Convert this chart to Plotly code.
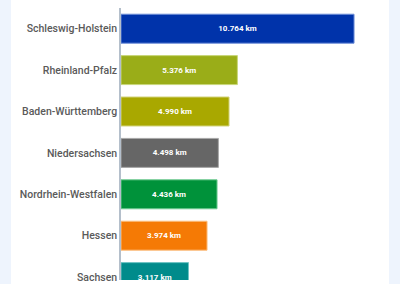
import plotly.graph_objects as go

states = ["Schleswig-Holstein", "Rheinland-Pfalz", "Baden-Württemberg", "Niedersachsen",
          "Nordrhein-Westfalen", "Hessen", "Sachsen"]
km = [10764, 5376, 4990, 4498, 4436, 3974, 3117]
labels = ["10.764 km", "5.376 km", "4.990 km", "4.498 km", "4.436 km", "3.974 km", "3.117 km"]
colors = ["#0033AA", "#9AAD18", "#A9A800", "#666666", "#00923A", "#F57A05", "#008B8B"]
borders = ["#6F8FD8", "#C8D67A", "#D2D27A", "#A8A8A8", "#6FCB92", "#FBBE80", "#6FC4C4"]

fig = go.Figure(go.Bar(
    x=km, y=states, orientation="h",
    marker=dict(color=colors, line=dict(color=borders, width=1)),
    text=labels, textposition="inside", insidetextanchor="middle",
    textfont=dict(family="Roboto", size=8, color="white", weight="bold"),
    hoverinfo="skip",
))

fig.update_layout(
    width=400, height=284,
    margin=dict(l=121, r=20, t=8, b=0),
    paper_bgcolor="#EEF4FD", plot_bgcolor="white",
    bargap=0.3, showlegend=False,
    shapes=[dict(type="rect", xref="paper", yref="paper",
                 x0=(11 - 121) / 259, x1=(389 - 121) / 259, y0=-0.2, y1=1.2,
                 fillcolor="white", line_width=0, layer="below")],
    xaxis=dict(range=[0, 259 / 0.02165], visible=False, fixedrange=True),
    yaxis=dict(range=[6.07, -0.5], showline=True, linecolor="#B4BFCB", linewidth=1.5,
               ticks="", showgrid=False, zeroline=False, ticklabelstandoff=0,
               tickfont=dict(family="Roboto", size=10.5, color="#5A5A5A", weight=500)),
)

fig.write_html("out.html")
